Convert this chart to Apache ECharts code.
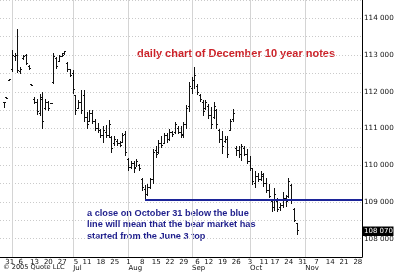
<!DOCTYPE html>
<html><head><meta charset="utf-8">
<script src="https://cdn.jsdelivr.net/npm/echarts@6/dist/echarts.min.js"></script>
<style>html,body{margin:0;padding:0;background:#fff}#c{width:400px;height:272px}</style>
</head><body><div id="c"></div>
<script>
// Trading days shown on the axis (May 25 .. Nov 29, 2005)
const tradingDays = [
  ['5', [25,26,27,31]],
  ['6', [1,2,3,6,7,8,9,10,13,14,15,16,17,20,21,22,23,24,27,28,29,30]],
  ['7', [1,5,6,7,8,11,12,13,14,15,18,19,20,21,22,25,26,27,28,29]],
  ['8', [1,2,3,4,5,8,9,10,11,12,15,16,17,18,19,22,23,24,25,26,29,30,31]],
  ['9', [1,2,6,7,8,9,12,13,14,15,16,19,20,21,22,23,26,27,28,29,30]],
  ['10', [3,4,5,6,7,11,12,13,14,17,18,19,20,21,24,25,26,27,28,31]],
  ['11', [1,2,3,4,7,8,9,10,11,14,15,16,17,18,21,22,23,24,25,28,29]]
];
const categories = [];
tradingDays.forEach(([m, ds]) => ds.forEach(d => categories.push(m + '/' + d)));

// Tick labels
const weekLabels = ['5/31','6/6','6/13','6/20','6/27','7/5','7/11','7/18','7/25','8/1','8/8','8/15','8/22','8/29',
  '9/6','9/12','9/19','9/26','10/3','10/11','10/17','10/24','10/31','11/7','11/14','11/21','11/28'];
const monthLabels = {'7/1':'Jul','8/1':'Aug','9/1':'Sep','10/3':'Oct','11/1':'Nov'};
const monthGridDates = ['6/1','7/1','8/1','9/1','10/3','11/1'];
const priceTicks = [108,109,110,111,112,113,114];

// Daily OHLC (index aligned with categories, starting 5/25)
const opens = [null,
 111.72,111.84,112.30,112.60,112.95,113.00,112.55,112.90,112.98,112.70,
 112.19,111.80,111.70,111.40,111.80,111.55,111.70,111.68,112.25,112.90,
 112.82,112.96,113.00,112.78,112.60,112.50,111.90,111.55,111.70,111.90,
 111.30,111.20,111.40,111.20,111.00,110.95,110.80,110.90,110.80,110.75,
 110.60,110.65,110.60,110.62,110.85,110.15,109.95,110.05,109.95,110.00,
 109.60,109.35,109.20,109.40,109.60,110.40,110.35,110.60,110.60,110.80,
 110.70,110.90,110.90,111.00,110.90,110.80,111.10,111.60,112.10,112.30,
 112.15,111.90,111.70,111.55,111.60,111.35,111.30,111.50,110.95,110.70,
 110.65,110.70,110.95,111.25,110.45,110.40,110.30,110.45,110.30,110.10,
 109.90,109.50,109.70,109.60,109.70,109.50,109.30,109.00,108.85,109.00,
 108.85,108.90,109.10,109.15,109.45,108.80,108.40];
const highs = [null,
 111.73,111.86,112.35,113.15,113.07,113.72,112.67,113.00,113.02,112.74,
 112.20,111.87,111.80,111.95,112.00,111.80,111.74,111.70,113.07,112.94,
 112.99,113.07,113.12,112.80,112.62,112.59,111.92,111.78,112.05,112.05,
 111.46,111.50,111.51,111.27,111.15,111.00,111.06,111.10,111.22,110.79,
 110.79,110.71,110.66,110.87,110.92,110.20,110.12,110.12,110.17,110.04,
 109.66,109.45,109.50,109.66,110.44,110.52,110.70,110.79,110.87,110.87,
 110.98,110.92,111.19,111.06,111.06,111.19,111.65,112.27,112.40,112.67,
 112.21,111.94,111.78,111.78,111.67,111.59,111.73,111.54,111.00,110.92,
 110.79,110.79,111.27,111.54,110.52,110.52,110.57,110.52,110.44,110.25,
 109.93,109.85,109.80,109.85,109.80,109.66,109.50,109.05,109.37,109.10,
 108.97,109.26,109.20,109.66,109.50,108.83,108.43];
const lows = [null,
 111.57,111.81,112.29,112.53,112.85,112.50,112.48,112.86,112.72,112.60,
 112.16,111.66,111.38,111.33,111.00,111.50,111.48,111.66,112.21,112.61,
 112.80,112.94,112.99,112.55,112.40,111.95,111.38,111.52,111.40,111.19,
 111.00,111.19,111.11,110.92,110.87,110.74,110.60,110.74,110.74,110.33,
 110.52,110.52,110.50,110.60,110.25,109.85,109.90,109.80,109.95,109.85,
 109.31,109.05,109.15,109.35,109.50,110.20,110.31,110.47,110.58,110.60,
 110.66,110.77,110.84,110.84,110.74,110.74,111.00,111.46,111.95,112.08,
 111.92,111.73,111.33,111.50,111.25,111.00,111.27,111.00,110.60,110.31,
 110.60,110.20,110.92,111.19,110.25,110.20,110.12,110.25,110.04,109.85,
 109.45,109.39,109.53,109.58,109.40,109.23,109.10,108.72,108.75,108.72,
 108.76,108.83,108.86,109.10,108.95,108.45,108.10];
const closes = [null,
 111.72,111.83,112.33,112.98,113.00,112.58,112.62,112.97,112.76,112.63,
 112.18,111.70,111.45,111.85,111.20,111.70,111.55,111.68,112.95,112.70,
 112.95,113.03,113.10,112.62,112.45,112.05,111.50,111.70,111.50,111.30,
 111.10,111.40,111.20,111.00,110.95,110.80,110.95,110.80,111.10,110.45,
 110.70,110.60,110.55,110.80,110.35,109.95,110.05,109.90,110.10,109.90,
 109.40,109.20,109.40,109.60,110.35,110.30,110.60,110.55,110.80,110.70,
 110.90,110.85,111.10,110.90,110.85,111.10,111.55,112.15,112.30,112.45,
 111.98,111.78,111.45,111.70,111.35,111.10,111.60,111.10,110.70,110.50,
 110.70,110.30,111.20,111.40,110.40,110.30,110.50,110.30,110.10,109.90,
 109.55,109.70,109.60,109.75,109.50,109.30,109.15,108.85,109.20,108.80,
 108.90,109.10,109.00,109.55,109.05,108.50,108.22];

// Blue support line (from the August low) and last price
const supportStart = '8/9';
const supportLevel = 109.05;
const lastPrice = 108.21875;
const lastPriceText = '108 070';

const titleText = 'daily chart of December 10 year notes';
const noteText = 'a close on October 31 below the blue\nline will mean that the bear market has\nstarted from the June 3 top';
const copyrightText = '\u00a9 2005 Quote LLC';

const bars = [];
for (let i = 0; i < highs.length; i++) {
  if (highs[i] != null) bars.push([i, opens[i], highs[i], lows[i], closes[i]]);
}
const lastIndex = highs.length - 1;
const weekSet = new Set(weekLabels.map(d => categories.indexOf(d)));
const monthIdx = {};
Object.keys(monthLabels).forEach(d => monthIdx[categories.indexOf(d)] = monthLabels[d]);

const axisFont = 'DejaVu Sans';
const chart = echarts.init(document.getElementById('c'), null, {renderer: 'canvas'});
chart.setOption({
  animation: false,
  backgroundColor: '#fff',
  grid: {left: 0, right: 38, top: -3.3, height: 260.9, containLabel: false},
  xAxis: [{
    type: 'category', data: categories, boundaryGap: true,
    axisLine: {lineStyle: {color: '#000', width: 1}},
    axisTick: {show: false},
    splitLine: {show: false},
    axisLabel: {
      interval: (i) => weekSet.has(i),
      formatter: (v) => v.split('/')[1],
      fontFamily: axisFont, fontSize: 7, color: '#111', margin: 1.5
    }
  }, {
    type: 'category', data: categories, boundaryGap: true, position: 'bottom', offset: 7,
    axisLine: {show: false}, axisTick: {show: false}, splitLine: {show: false},
    axisLabel: {
      interval: (i) => monthIdx[i] !== undefined,
      formatter: (v, i) => monthIdx[i] || '',
      align: 'left',
      fontFamily: axisFont, fontSize: 7, color: '#111', margin: 1
    }
  }],
  yAxis: {
    type: 'value', position: 'right', min: 107.5, max: 114.5, interval: 0.5,
    axisLine: {show: true, lineStyle: {color: '#000', width: 1}},
    axisTick: {show: false},
    splitLine: {show: true, lineStyle: {color: '#cacaca', type: [1, 2], width: 1}},
    axisLabel: {
      formatter: (v) => priceTicks.includes(v) ? v + ' 000' : '',
      fontFamily: axisFont, fontSize: 7.2, color: '#111', margin: 2
    }
  },
  graphic: [
    {type: 'text', left: 137, top: 48, style: {text: titleText, font: 'bold 11px "Liberation Sans"', fill: '#cc2229'}},
    {type: 'text', left: 87, top: 208, style: {text: noteText, font: 'bold 9.2px "Liberation Sans"', fill: '#1e1e8c', lineHeight: 11.2}},
    {type: 'text', left: 3, top: 264, style: {text: copyrightText, font: '6.6px "DejaVu Sans"', fill: '#111'}}
  ],
  series: [{
    type: 'custom', z: 1, silent: true,
    data: monthGridDates.map(d => [categories.indexOf(d)]),
    encode: {x: 0},
    renderItem: (params, api) => {
      const p = api.coord([api.value(0), 110]);
      const cs = params.coordSys;
      const x = Math.round(p[0]) + 0.5;
      return {type: 'line', shape: {x1: x, y1: Math.max(cs.y, 0), x2: x, y2: cs.y + cs.height},
        style: {stroke: '#d4d4d4', lineWidth: 1}};
    }
  }, {
    type: 'custom', z: 3, silent: true,
    data: bars,
    encode: {x: 0, y: [1, 2, 3, 4]},
    renderItem: (params, api) => {
      const i = api.value(0);
      const pO = api.coord([i, api.value(1)]);
      const pH = api.coord([i, api.value(2)]);
      const pL = api.coord([i, api.value(3)]);
      const pC = api.coord([i, api.value(4)]);
      const col = Math.round(pH[0] - 0.5);
      const x = col + 0.5;
      const hy = Math.round(pH[1]);
      const ly = Math.max(Math.round(pL[1]), hy + 1);
      const oy = Math.round(pO[1] - 0.5) + 0.5;
      const cy = Math.round(pC[1] - 0.5) + 0.5;
      const st = {stroke: '#111', lineWidth: 1};
      return {type: 'group', children: [
        {type: 'line', shape: {x1: x, y1: hy, x2: x, y2: ly}, style: st},
        {type: 'line', shape: {x1: col - 1, y1: oy, x2: col, y2: oy}, style: st},
        {type: 'line', shape: {x1: col + 1, y1: cy, x2: col + 2, y2: cy}, style: st}
      ]};
    }
  }, {
    type: 'custom', z: 4, silent: true,
    data: [[categories.indexOf(supportStart), supportLevel]],
    encode: {x: 0, y: 1},
    renderItem: (params, api) => {
      const p = api.coord([api.value(0), api.value(1)]);
      const cs = params.coordSys;
      const y = Math.round(p[1]);
      return {type: 'line', shape: {x1: Math.round(p[0]), y1: y, x2: cs.x + cs.width, y2: y},
        style: {stroke: '#1c2499', lineWidth: 2}};
    }
  }, {
    type: 'custom', z: 5, silent: true,
    data: [[lastIndex, lastPrice]],
    encode: {x: 0, y: 1},
    renderItem: (params, api) => {
      const p = api.coord([api.value(0), api.value(1)]);
      const cs = params.coordSys;
      const x0 = cs.x + cs.width + 0.5;
      const y = Math.round(p[1]);
      return {type: 'group', children: [
        {type: 'rect', shape: {x: x0, y: y - 4.5, width: 31, height: 9.5}, style: {fill: '#000'}},
        {type: 'text', x: x0 + 1.5, y: y + 0.3, style: {text: lastPriceText, font: '7px "DejaVu Sans"', fill: '#fff', verticalAlign: 'middle', align: 'left'}}
      ]};
    }
  }]
});
</script>
</body></html>
